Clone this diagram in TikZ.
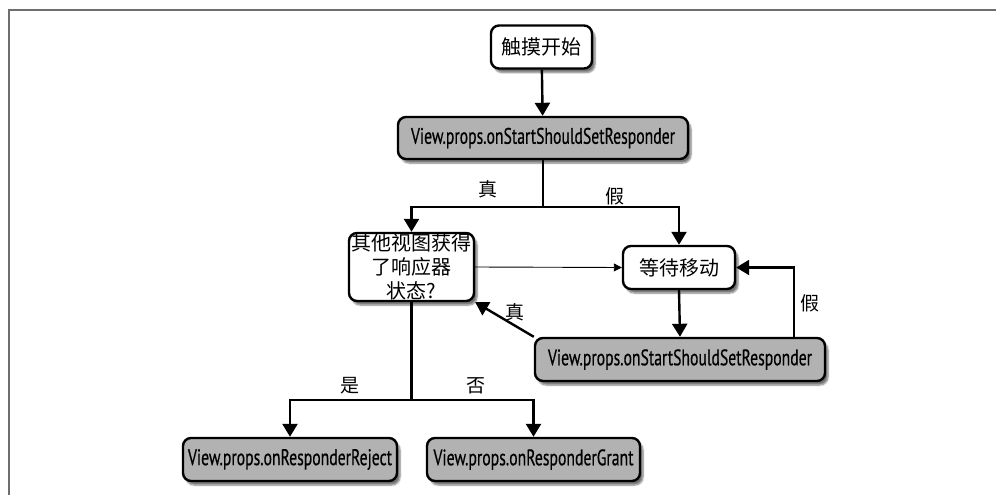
\documentclass[tikz,border=0pt]{standalone}
\usepackage{fontspec}
\usepackage{graphicx}
\newfontfamily\cjk{Noto Sans CJK SC}
\newfontfamily\codefont[FakeBold=0.6]{PT Sans}
\usetikzlibrary{arrows.meta,shadows.blur}

\definecolor{boxgray}{HTML}{B2B2B2}
\definecolor{framegray}{HTML}{6E6E6E}

% fixed-size text for the API names
\newcommand{\apitext}[2]{\resizebox{#1pt}{16pt}{\codefont #2}}

\tikzset{
  box/.style={draw=black, line width=2.4pt, rounded corners=8pt, inner sep=0pt,
    align=center, font=\cjk\fontsize{20}{24}\selectfont,
    blur shadow={shadow xshift=3pt, shadow yshift=-4pt, shadow blur steps=6, shadow opacity=55}},
  whitebox/.style={box, fill=white},
  graybox/.style={box, fill=boxgray},
  flow/.style={line width=2.4pt, -{Triangle[width=15pt,length=13pt]}},
  thinflow/.style={line width=0.9pt, -{Triangle[width=8pt,length=8pt]}},
  link/.style={line width=2.4pt},
  lbl/.style={font=\cjk\fontsize{19}{19}\selectfont, inner sep=0pt},
}

\begin{document}
\begin{tikzpicture}[x=1pt, y=-1pt]
  \useasboundingbox (0,0) rectangle (996,495);

  % page frame
  \draw[framegray, line width=2pt] (8.5,495) -- (8.5,10.5) -- (996,10.5);

  % nodes
  \node[whitebox, minimum width=101pt, minimum height=43pt] (start) at (541.5,47) {触摸开始};
  \node[graybox, minimum width=290pt, minimum height=42pt] (check1) at (543,138)
    {\apitext{264}{View.props.onStartShouldSetResponder}};
  \node[whitebox, minimum width=125pt, minimum height=68pt] (other) at (411.5,267)
    {其他视图获得\\了响应器\\状态?};
  \node[whitebox, minimum width=112pt, minimum height=43pt] (wait) at (679,267.5) {等待移动};
  \node[graybox, minimum width=290pt, minimum height=43pt] (check2) at (680,359.5)
    {\apitext{264}{View.props.onStartShouldSetResponder}};
  \node[graybox, minimum width=214pt, minimum height=43pt] (reject) at (290,459.5)
    {\apitext{204}{View.props.onResponderReject}};
  \node[graybox, minimum width=213pt, minimum height=43pt] (grant) at (533.5,459.5)
    {\apitext{200}{View.props.onResponderGrant}};

  % junction points and guides
  \coordinate (j1) at (543,207);
  \coordinate (j2) at (411.5,400);
  \coordinate (fx) at (794,0);

  % connectors
  \draw[flow] (start) -- (check1);
  \draw[link] (check1.south) -- (j1);
  \draw[flow] (j1) -| (other.north);
  \draw[flow] (j1) -| (wait.north);
  \draw[thinflow] (other.east) -- (wait.west);
  \draw[flow] (wait.south) -- (check2.north);
  \draw[flow] (check2.north -| fx) |- (wait.east);
  \draw[flow] (check2.north west) -- (other.south east);
  \draw[link] (other.south) -- (j2);
  \draw[flow] (j2) -| (reject.north);
  \draw[flow] (j2) -| (grant.north);

  % branch labels
  \node[lbl] (t1) at (488,189) {真};
  \node[lbl] (f1) at (615,196) {假};
  \node[lbl] (t2) at (515,312) {真};
  \node[lbl] (f2) at (810,303) {假};
  \node[lbl] (yes) at (350,386) {是};
  \node[lbl] (no) at (476,386) {否};
\end{tikzpicture}
\end{document}
